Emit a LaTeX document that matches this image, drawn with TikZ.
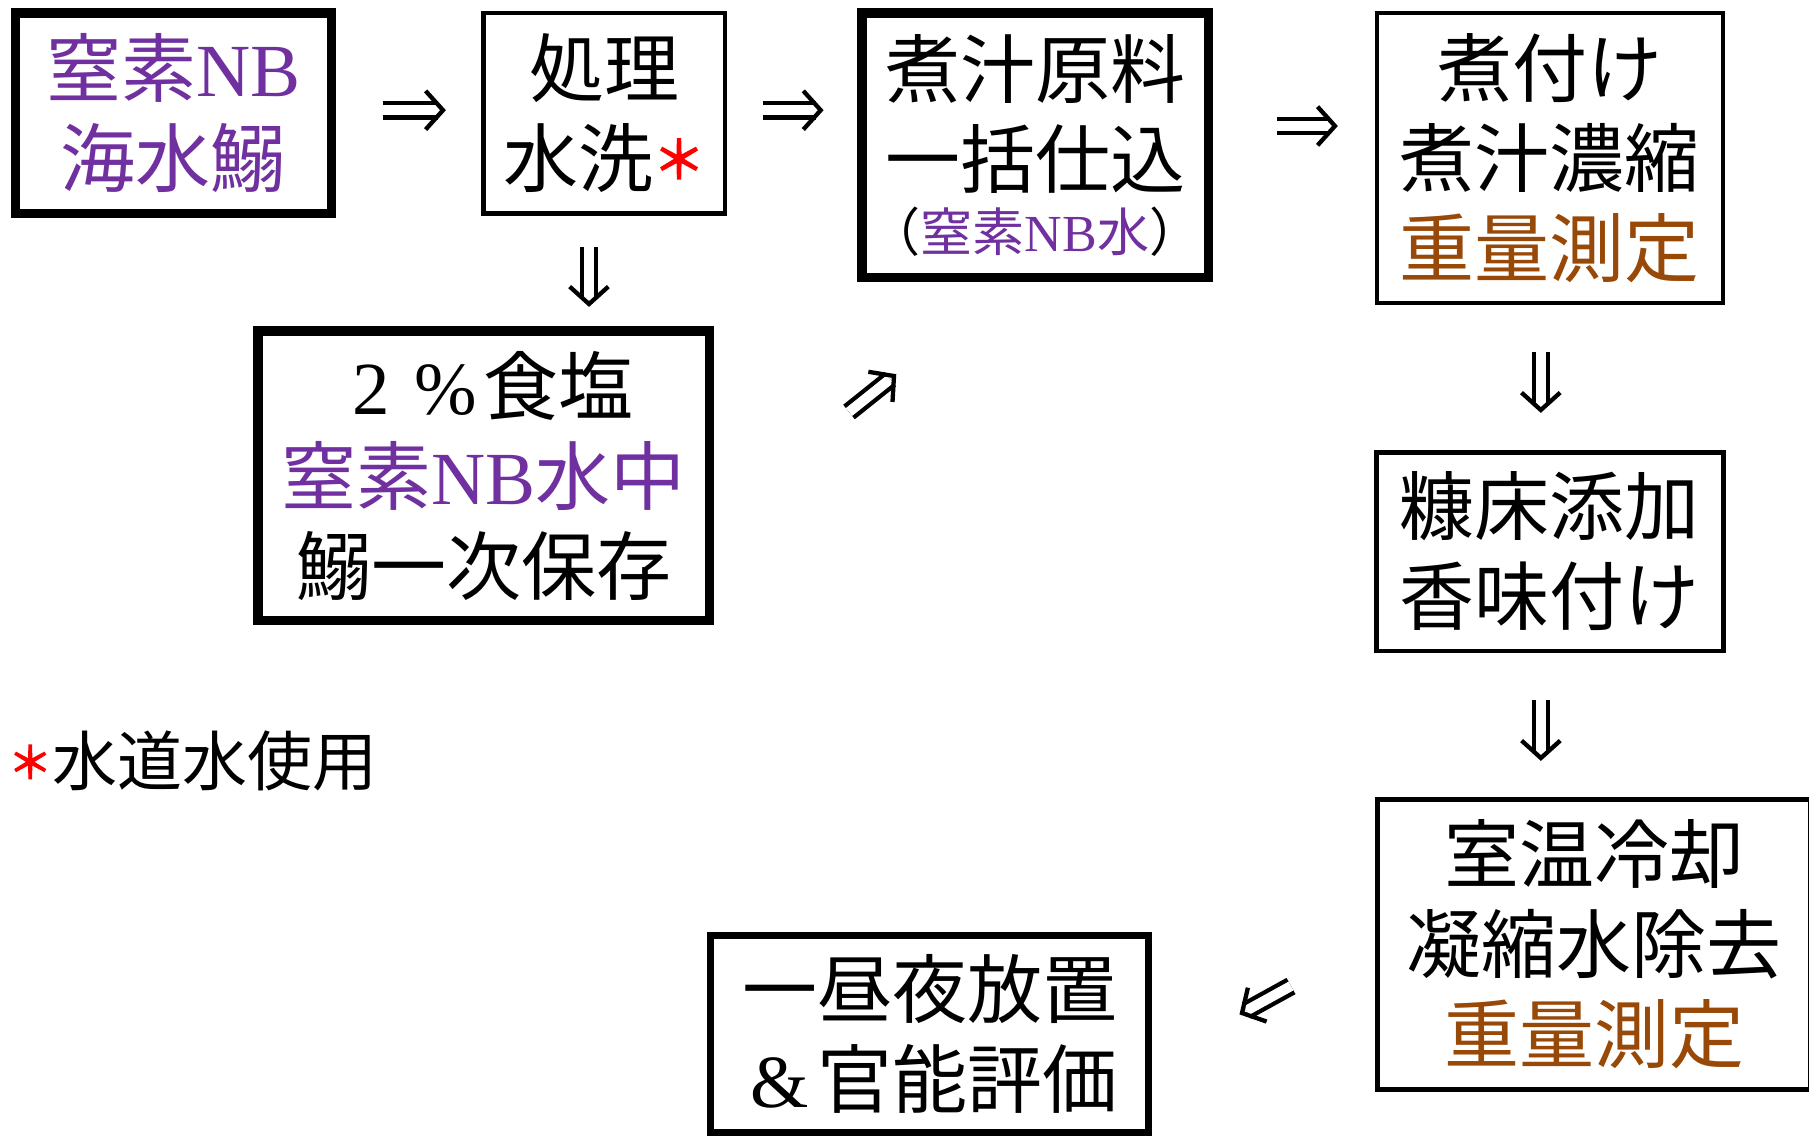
\documentclass[tikz,border=0pt]{standalone}
\usepackage{fontspec}
\setmainfont{Liberation Serif}
\newfontfamily\jp{Noto Sans CJK JP}
\newfontfamily\astf{Noto Sans CJK JP}[FakeBold=3]
\usetikzlibrary{calc}
\definecolor{nbpurple}{HTML}{7030A0}
\definecolor{nbbrown}{HTML}{984807}
\newcommand\latn[1]{{\rmfamily #1}}
\newcommand\redast[3]{\makebox[#1][c]{\textcolor{red}{\astf\fontsize{#2}{#2}\selectfont\raisebox{#3}{＊}}}}
\tikzset{
  pbox/.style={draw, rectangle, align=center, inner sep=0pt, font=\jp\fontsize{75}{90}\selectfont},
  thickb/.style={pbox, line width=9.5pt},
  thinb/.style={pbox, line width=4.5pt},
  rails/.style={draw, double, double distance=10pt, line width=4.3pt},
  headst/.style={draw, line width=4.3pt, line join=miter, line cap=butt},
}
% double arrow from #1 to #2 (tip at #2)
\newcommand\dblarr[2]{%
  \draw[rails] (#1) -- ($(#2)!5pt!(#1)$);
  \draw[headst] ($(#2)!26pt!48:(#1)$) -- (#2) -- ($(#2)!26pt!-48:(#1)$);}
\begin{document}
\begin{tikzpicture}[x=1pt, y=-1pt]
\useasboundingbox (0,0) rectangle (1809,1136);
\fill[white] (0,0) rectangle (1809,1136);
% boxes
\node[thickb, minimum width=315.8pt, minimum height=200.2pt, text=nbpurple] (n1) at (173.4,113.2) {窒素\latn{NB}\\海水鰯};
\node[thinb, minimum width=241.5pt, minimum height=200.5pt] (n2) at (604,113.2) {処理\\水洗\redast{52pt}{52}{8pt}};
\node[thickb, minimum width=451.5pt, minimum height=289.5pt] (n3) at (483.5,475.5) {\latn{\makebox[1em]{2}\makebox[1em]{\%}}食塩\\\textcolor{nbpurple}{窒素\latn{NB}水中}\\鰯一次保存};
\node[thickb, minimum width=346.5pt, minimum height=264.5pt] (n4) at (1035,145) {煮汁原料\\一括仕込\\[-26pt]{\fontsize{52}{60}\selectfont （\textcolor{nbpurple}{窒素\latn{NB}水}）}};
\node[thinb, minimum width=346pt, minimum height=289.8pt] (n5) at (1549.8,157.9) {煮付け\\煮汁濃縮\\\textcolor{nbbrown}{重量測定}};
\node[thinb, minimum width=347pt, minimum height=198.5pt] (n6) at (1549.9,551.5) {糠床添加\\香味付け};
\node[pbox, line width=5pt, minimum width=433pt, minimum height=290pt] (n7) at (1594,944.5) {室温冷却\\凝縮水除去\\\textcolor{nbbrown}{重量測定}};
\node[pbox, line width=7pt, minimum width=438pt, minimum height=197pt] (n8) at (929.5,1034) {一昼夜放置\\\latn{\makebox[1em]{\&}}官能評価};
% footnote
\node[anchor=west, inner sep=0pt, font=\jp\fontsize{65}{70}\selectfont] (fn) at (8,761) {\redast{44pt}{44}{7pt}水道水使用};
% arrow end points
\coordinate (a1s) at ($(n1.east)+(47,-3)$);
\coordinate (a1e) at ($(n1.east -| n2.west)+(-38,-3)$);
\coordinate (a2s) at ($(n2.east)+(35.7,-3)$);
\coordinate (a2e) at ($(n2.east -| n4.west)+(-36.3,-3)$);
\coordinate (a3s) at ($(n4.east)+(63.7,-19)$);
\coordinate (a3e) at ($(n4.east -| n5.west)+(-39.6,-19)$);
\coordinate (a4s) at ($(n2.south)+(-15,31.3)$);
\coordinate (a4e) at ($(n2.south |- n3.north)+(-15,-22)$);
\coordinate (a5s) at ($(n5.south)+(-9,46.7)$);
\coordinate (a5e) at ($(n5.south |- n6.north)+(-9,-40)$);
\coordinate (a6s) at ($(n6.south)+(-9,47)$);
\coordinate (a6e) at ($(n6.south |- n7.north)+(-9,-39)$);
\coordinate (c1) at (849,412);
\coordinate (c2) at (894,376);
\coordinate (c3) at (1291,986);
\coordinate (c4) at (1242,1013);
% arrows
\dblarr{a1s}{a1e}
\dblarr{a2s}{a2e}
\dblarr{a3s}{a3e}
\dblarr{a4s}{a4e}
\dblarr{a5s}{a5e}
\dblarr{a6s}{a6e}
\dblarr{c1}{c2}
\dblarr{c3}{c4}
\end{tikzpicture}
\end{document}
